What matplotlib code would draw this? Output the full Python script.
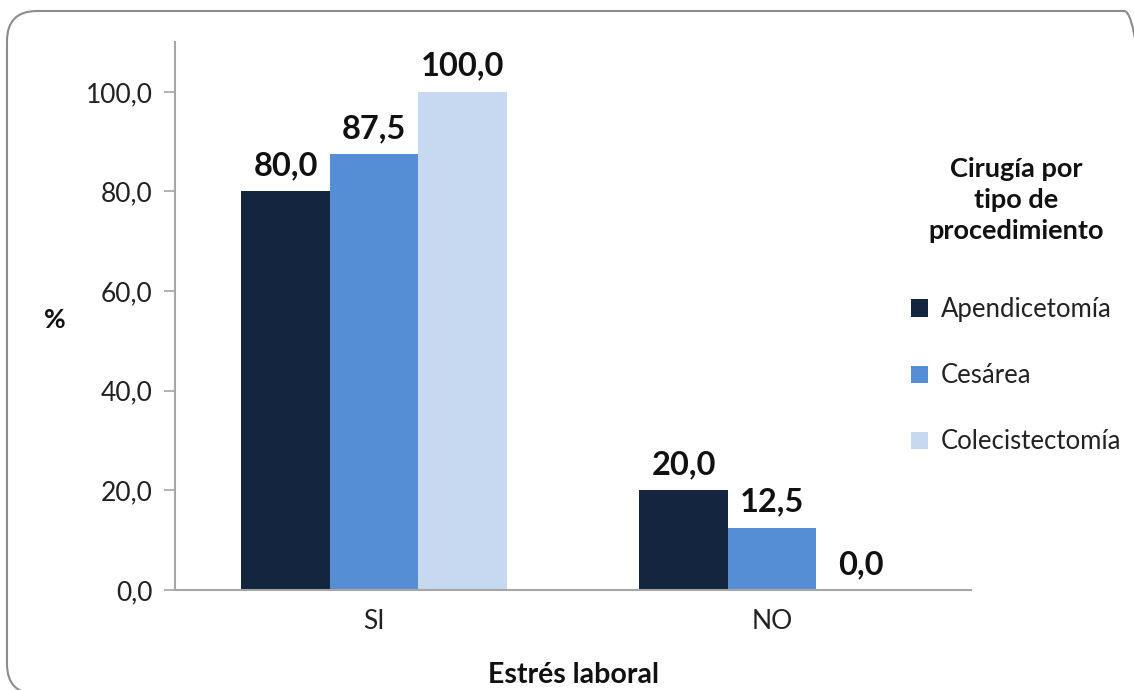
import matplotlib
matplotlib.use("Agg")
import matplotlib.pyplot as plt
import numpy as np
from matplotlib.patches import FancyBboxPatch, Patch
from matplotlib.transforms import IdentityTransform

categories = ["SI", "NO"]
series_names = ["Apendicetomía", "Cesárea", "Colecistectomía"]
apendicetomia = [80.0, 20.0]
cesarea = [87.5, 12.5]
colecistectomia = [100.0, 0.0]
colors = ["#14253F", "#558ED5", "#C6D9F1"]
yticks = [0, 20, 40, 60, 80, 100]

plt.rcParams['font.family'] = ['Lato', 'DejaVu Sans']

fig = plt.figure(figsize=(11.34, 6.9), dpi=100)
ax = fig.add_axes([175/1134, 1-590/690, (971-175)/1134, (590-42)/690])

# Rounded frame in pixel coordinates (runs slightly past right and bottom edges)
frame = FancyBboxPatch((7, -4), 1147, 683, boxstyle="round,pad=0,rounding_size=30",
                       transform=IdentityTransform(), facecolor="none", edgecolor="#8C8C8C",
                       linewidth=1.5, zorder=0)
fig.patches.append(frame)

x = np.arange(len(categories))
w = 2/9
data = [apendicetomia, cesarea, colecistectomia]
for i, (vals, name, c) in enumerate(zip(data, series_names, colors)):
    pos = x + (i - 1) * w
    ax.bar(pos, vals, width=w, color=c, label=name, zorder=2)
    for p, v in zip(pos, vals):
        ax.annotate(f"{v:.1f}".replace(".", ","), (p, v), xytext=(0, 8),
                    textcoords="offset points", ha="center", va="bottom",
                    fontsize=23.5, fontweight="bold", color="#111111")

ax.set_xlim(-0.5, 1.5)
ax.set_ylim(0, 110)
ax.set_yticks(yticks)
ax.set_yticklabels([f"{t:.1f}".replace(".", ",") for t in yticks], fontsize=19, color="#222222")
ax.set_xticks(x)
ax.set_xticklabels(categories, fontsize=19, color="#222222")
ax.tick_params(axis="x", length=0, pad=14)
ax.tick_params(axis="y", length=8, width=1.2, color="#A6A6A6", pad=8)

for s in ["top", "right"]:
    ax.spines[s].set_visible(False)
for s in ["left", "bottom"]:
    ax.spines[s].set_color("#A6A6A6")
    ax.spines[s].set_linewidth(1.5)

fig.text(573/1134, 1-675/690, "Estrés laboral", ha="center", va="center",
         fontsize=20.5, fontweight="bold", color="#111111")
fig.text(55/1134, 1-320/690, "%", ha="center", va="center",
         fontsize=19, fontweight="bold", color="#111111")

fig.text(1016/1134, 1-200/690, "Cirugía por\ntipo de\nprocedimiento", ha="center", va="center",
         fontsize=19.5, fontweight="bold", color="#111111", linespacing=1.35, multialignment="center")

handles = [Patch(facecolor=c, label=n) for c, n in zip(colors, series_names)]
leg = fig.legend(handles=handles, loc="upper left", bbox_to_anchor=(911/1134, 1-297/690),
                 frameon=False, fontsize=18.5, handlelength=0.65, handleheight=0.65,
                 handletextpad=0.5, labelspacing=1.6, borderaxespad=0, borderpad=0)
for t in leg.get_texts():
    t.set_color("#222222")

fig.savefig("out.png", dpi=100)
